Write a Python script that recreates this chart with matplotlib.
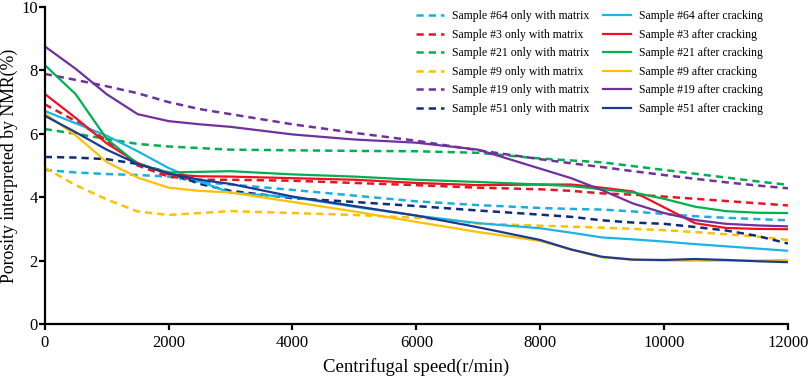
import numpy as np
import matplotlib.pyplot as plt

plt.rcParams['font.family'] = ['Liberation Serif', 'DejaVu Serif']

# centrifugal speed grid (r/min)
speed = [0, 500, 1000, 1500, 2000, 2500, 3000, 4000, 5000, 6000, 7000,
         8000, 8500, 9000, 9500, 10000, 10500, 11000, 11500, 12000]

# porosity (%)
s64_matrix = [4.86, 4.78, 4.73, 4.70, 4.65, 4.48, 4.40, 4.23, 4.05, 3.87, 3.75,
              3.66, 3.63, 3.61, 3.55, 3.47, 3.40, 3.35, 3.31, 3.27]
s64_crack = [6.72, 6.33, 5.94, 5.45, 4.92, 4.50, 4.14, 4.00, 3.70, 3.42, 3.18,
             3.02, 2.88, 2.73, 2.67, 2.60, 2.52, 2.45, 2.38, 2.31]
s3_matrix = [6.93, 6.40, 5.80, 5.00, 4.65, 4.55, 4.55, 4.52, 4.45, 4.38, 4.30,
             4.25, 4.20, 4.12, 4.08, 4.02, 3.95, 3.88, 3.81, 3.74]
s3_crack = [7.26, 6.50, 5.70, 5.08, 4.72, 4.66, 4.65, 4.60, 4.55, 4.45, 4.38,
            4.40, 4.40, 4.30, 4.18, 3.68, 3.18, 3.03, 3.00, 2.99]
s21_matrix = [6.15, 6.00, 5.84, 5.68, 5.60, 5.55, 5.50, 5.48, 5.46, 5.45, 5.40,
              5.22, 5.16, 5.10, 4.98, 4.86, 4.74, 4.62, 4.50, 4.39]
s21_crack = [8.17, 7.25, 5.84, 5.05, 4.78, 4.80, 4.82, 4.72, 4.65, 4.55, 4.48,
             4.40, 4.35, 4.25, 4.15, 3.95, 3.70, 3.56, 3.51, 3.50]
s9_matrix = [4.93, 4.38, 3.93, 3.55, 3.44, 3.50, 3.56, 3.50, 3.44, 3.35, 3.17,
             3.10, 3.07, 3.04, 3.00, 2.96, 2.90, 2.83, 2.76, 2.65]
s9_crack = [6.64, 5.95, 5.11, 4.62, 4.30, 4.20, 4.15, 3.85, 3.55, 3.22, 2.90,
            2.62, 2.35, 2.10, 2.03, 2.00, 2.00, 2.00, 2.00, 2.02]
s19_matrix = [7.89, 7.70, 7.50, 7.28, 7.00, 6.78, 6.62, 6.30, 6.03, 5.78, 5.48,
              5.20, 5.07, 4.95, 4.82, 4.70, 4.58, 4.47, 4.37, 4.28]
s19_crack = [8.76, 8.05, 7.25, 6.62, 6.40, 6.30, 6.22, 5.98, 5.82, 5.72, 5.50,
             4.90, 4.60, 4.22, 3.80, 3.50, 3.28, 3.16, 3.11, 3.08]
s51_matrix = [5.27, 5.25, 5.20, 5.05, 4.78, 4.42, 4.20, 3.97, 3.85, 3.72, 3.58,
              3.45, 3.38, 3.27, 3.20, 3.16, 3.06, 2.95, 2.78, 2.54]
s51_crack = [6.57, 6.05, 5.50, 5.05, 4.75, 4.55, 4.42, 4.02, 3.72, 3.42, 3.05,
             2.65, 2.35, 2.12, 2.03, 2.02, 2.05, 2.02, 1.98, 1.95]

samples = ['#64', '#3', '#21', '#9', '#19', '#51']
matrix = [s64_matrix, s3_matrix, s21_matrix, s9_matrix, s19_matrix, s51_matrix]
crack = [s64_crack, s3_crack, s21_crack, s9_crack, s19_crack, s51_crack]
dash_colors = ['#1AAEDF', '#E8141E', '#00AF50', '#FFC000', '#7030A0', '#0B2D7C']
solid_colors = ['#1AB4E6', '#F01020', '#00B050', '#FFC000', '#7030A0', '#1B3A92']

fig = plt.figure(figsize=(8.09, 3.77), dpi=100)
ax = fig.add_axes([0.0553, 0.1406, 0.9187, 0.8408])

for name, y, c in zip(samples, matrix, dash_colors):
    ax.plot(speed, y, color=c, lw=1.8, dashes=(2.9, 2.0),
            label='Sample ' + name + ' only with matrix')
for name, y, c in zip(samples, crack, solid_colors):
    ax.plot(speed, y, color=c, lw=1.6, label='Sample ' + name + ' after cracking')

ax.set_xlim(0, 12000)
ax.set_ylim(0, 10)
ax.set_xticks(range(0, 12001, 2000))
ax.set_yticks(range(0, 11, 2))
ax.spines['top'].set_visible(False)
ax.spines['right'].set_visible(False)
for s in ['left', 'bottom']:
    ax.spines[s].set_linewidth(1.6)
ax.tick_params(direction='out', length=4, width=1.6, labelsize=12)
ax.tick_params(axis='x', pad=4)
ax.tick_params(axis='y', pad=1)
ax.set_xlabel('Centrifugal speed(r/min)', fontsize=13.5, labelpad=5)
ax.set_ylabel('Porosity interpreted by NMR(%)', fontsize=12.8, labelpad=2)

ax.legend(ncol=2, frameon=False, fontsize=8.5, loc='upper left',
          bbox_to_anchor=(0.508, 0.985), bbox_transform=fig.transFigure,
          handlelength=2.4, labelspacing=0.55, columnspacing=1.1,
          handletextpad=0.7, borderaxespad=0)

fig.savefig('out.png', dpi=100)
